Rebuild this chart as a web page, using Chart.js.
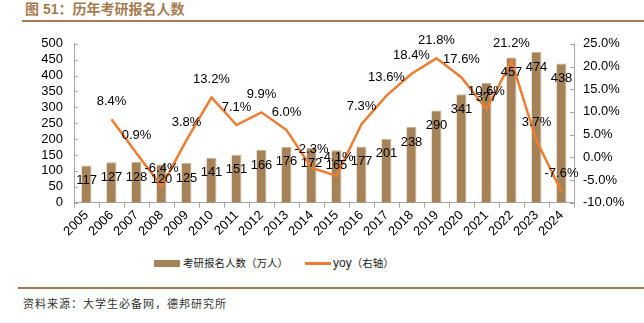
<!DOCTYPE html>
<html><head><meta charset="utf-8">
<script src="https://cdn.jsdelivr.net/npm/chart.js@4/dist/chart.umd.min.js"></script>
<style>
html,body{margin:0;padding:0;background:#fff;width:644px;height:323px;overflow:hidden;position:relative;font-family:"Liberation Sans",Arial,sans-serif;}
#title{position:absolute;left:25px;top:0px;font-size:14px;font-weight:bold;color:#A67B50;font-family:"Liberation Sans","Noto Sans CJK SC",sans-serif;line-height:18px;}
#l1{position:absolute;left:22px;top:20px;width:622px;height:2px;background:#A67B50;}
#wrap{position:absolute;left:0;top:25px;width:644px;height:225px;}
#legend{position:absolute;top:255px;left:0;height:16px;font-size:10.5px;color:#222;}
.sw{position:absolute;}
.lt{position:absolute;top:0;line-height:16px;white-space:nowrap;font-family:"Noto Sans CJK SC",sans-serif;}
#l2{position:absolute;left:18px;top:287px;width:626px;height:2px;background:#A67B50;}
#src{position:absolute;left:23px;top:295px;font-size:11px;letter-spacing:1px;color:#333;font-family:"Noto Sans CJK SC",sans-serif;line-height:16px;}
</style></head>
<body>
<div id="title">图 51：历年考研报名人数</div>
<div id="l1"></div>
<div id="wrap"><canvas id="c" width="644" height="225"></canvas></div>
<div id="legend">
  <div class="sw" style="left:154px;top:5px;width:26px;height:7px;background:#A68259;"></div>
  <div class="lt" style="left:183px;">考研报名人数（万人）</div>
  <div class="sw" style="left:305px;top:7px;width:26px;height:3px;background:#ED7D31;"></div>
  <div class="lt" style="left:333px;"><span style="font-family:'Liberation Sans',Arial;font-size:12px;">yoy</span>（右轴）</div>
</div>
<div id="l2"></div>
<div id="src">资料来源：大学生必备网，德邦研究所</div>
<script>
const years = ['2005','2006','2007','2008','2009','2010','2011','2012','2013','2014','2015','2016','2017','2018','2019','2020','2021','2022','2023','2024'];
const applicants = [117,127,128,120,125,141,151,166,176,172,165,177,201,238,290,341,377,457,474,438];
const yoy = [null,8.4,0.9,-6.4,3.8,13.2,7.1,9.9,6.0,-2.3,-4.1,7.3,13.6,18.4,21.8,17.6,10.6,21.2,3.7,-7.6];
const leftTicks = [0,50,100,150,200,250,300,350,400,450,500];
const rightTicks = [-10,-5,0,5,10,15,20,25];

const FONT = {family:'"Liberation Sans", Arial, sans-serif', size:13};

const labelPlugin = {
  id:'valueLabels',
  afterDatasetsDraw(chart){
    const ctx = chart.ctx;
    ctx.save();
    ctx.font = '13px "Liberation Sans", Arial, sans-serif';
    ctx.fillStyle = '#000';
    ctx.textAlign = 'center';
    ctx.textBaseline = 'middle';
    const m0 = chart.getDatasetMeta(0);
    m0.data.forEach((el,i)=>{ ctx.fillText(String(applicants[i]), el.x, el.y + 15); });
    const m1 = chart.getDatasetMeta(1);
    m1.data.forEach((el,i)=>{ if(yoy[i]===null) return; ctx.fillText(yoy[i].toFixed(1)+'%', el.x, el.y - 18); });
    ctx.restore();
  }
};

const innerTicks = {
  id:'innerTicks',
  afterDraw(chart){
    const ctx = chart.ctx; ctx.save();
    ctx.strokeStyle = '#A6A6A6'; ctx.lineWidth = 1;
    const yl = chart.scales.y, yr = chart.scales.y1;
    yl.ticks.forEach((t,i)=>{ const p = Math.round(yl.getPixelForTick(i))+0.5; ctx.beginPath(); ctx.moveTo(yl.right, p); ctx.lineTo(yl.right+4, p); ctx.stroke(); });
    yr.ticks.forEach((t,i)=>{ const p = Math.round(yr.getPixelForTick(i))+0.5; ctx.beginPath(); ctx.moveTo(yr.left, p); ctx.lineTo(yr.left-4, p); ctx.stroke(); });
    ctx.restore();
  }
};

new Chart(document.getElementById('c'), {
  data:{
    labels: years,
    datasets:[
      {type:'bar', label:'考研报名人数（万人）', data: applicants, yAxisID:'y', backgroundColor:'#A68259', borderColor:'#C9B293', borderWidth:{top:1,left:0,right:1,bottom:0}, barPercentage:0.4, categoryPercentage:1.0, order:2},
      {type:'line', label:'yoy（右轴）', data: yoy, yAxisID:'y1', borderColor:'#ED7D31', backgroundColor:'#ED7D31', borderWidth:2.5, pointRadius:0, tension:0, spanGaps:false, order:1}
    ]
  },
  options:{
    responsive:false, animation:false, devicePixelRatio:1,
    layout:{padding:{left:0,right:0,top:16.7,bottom:0}},
    plugins:{legend:{display:false}, tooltip:{enabled:false}},
    scales:{
      x:{
        offset:true,
        grid:{display:true, offset:true, drawOnChartArea:false, drawTicks:true, tickLength:5, color:'#A6A6A6'},
        border:{color:'#A6A6A6'},
        ticks:{color:'#000', font:FONT, maxRotation:45, minRotation:45, autoSkip:false, padding:0},
        afterFit(s){ s.height = 225 - 16.7 - 161; }
      },
      y:{
        position:'left', min:0, max:500,
        afterBuildTicks(s){ s.ticks = leftTicks.map(v=>({value:v})); },
        grid:{display:false, drawTicks:false},
        border:{display:true, color:'#A6A6A6'},
        ticks:{color:'#000', font:FONT, padding:11, autoSkip:false},
        afterFit(s){ s.width = 74; }
      },
      y1:{
        position:'right', min:-10, max:25,
        afterBuildTicks(s){ s.ticks = rightTicks.map(v=>({value:v})); },
        grid:{display:false, drawTicks:false},
        border:{display:true, color:'#A6A6A6'},
        ticks:{color:'#000', font:FONT, padding:9, autoSkip:false, callback:(v)=>Number(v).toFixed(1)+'%'},
        afterFit(s){ s.width = 70; }
      }
    }
  },
  plugins:[labelPlugin, innerTicks]
});
</script>
</body></html>
